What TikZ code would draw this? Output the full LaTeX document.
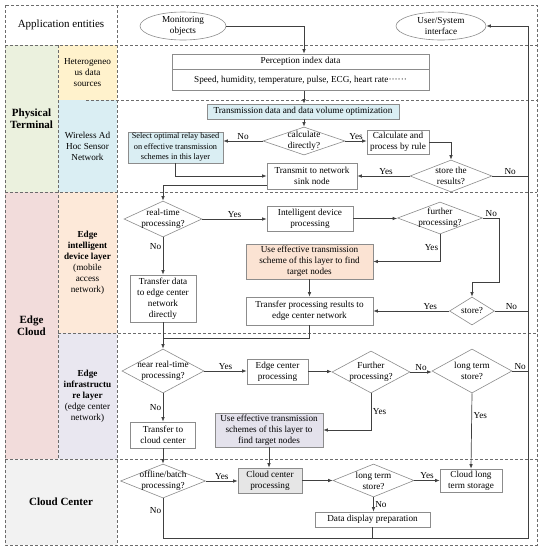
\documentclass[tikz,border=0pt]{standalone}
\usepackage{fontspec}
\setmainfont{Liberation Serif}
\usetikzlibrary{arrows.meta,positioning,shapes.geometric,calc}
\definecolor{physg}{HTML}{EBF1DE}
\definecolor{hetey}{HTML}{FFF2CC}
\definecolor{wsnb}{HTML}{DAEEF3}
\definecolor{edgep}{HTML}{F2DCDB}
\definecolor{edip}{HTML}{FDE9D9}
\definecolor{eill}{HTML}{E9E7F0}
\definecolor{cloudg}{HTML}{F2F2F2}
\definecolor{boxgray}{HTML}{8C8C8C}
\definecolor{linegray}{HTML}{404040}
\definecolor{usepeach}{HTML}{FBE3D3}
\definecolor{uselav}{HTML}{E4E2EC}
\definecolor{ccpgray}{HTML}{E6E6E6}
\tikzset{
  lanecell/.style={rectangle, fill=#1, inner sep=0pt, align=center, font=\fontsize{9.2}{11}\selectfont},
  lanehead/.style={rectangle, fill=#1, inner sep=0pt, align=center, font=\fontsize{11}{12.5}\selectfont\bfseries},
  proc/.style={rectangle, draw=boxgray, line width=0.6pt, fill=#1, align=center, inner sep=1pt,
               font=\fontsize{9.2}{11}\selectfont},
  proc/.default=white,
  decision/.style={diamond, draw=boxgray, line width=0.6pt, fill=white, aspect=2.5, inner sep=-6pt,
                   align=center, font=\fontsize{9.2}{11}\selectfont},
  entity/.style={ellipse, draw=boxgray, line width=0.6pt, inner sep=0pt, align=center,
                 minimum height=28pt, font=\fontsize{9.2}{11}\selectfont},
  zone/.style={dash pattern=on 3pt off 2pt, line width=0.7pt, draw=gray!85!black},
  arr/.style={-{Latex[length=4.5pt,width=3.5pt]}, line width=0.7pt, draw=linegray},
  link/.style={line width=0.7pt, draw=linegray},
  lbl/.style={font=\fontsize{9.2}{10}\selectfont, inner sep=1.5pt},
}
\begin{document}
\begin{tikzpicture}[x=1pt, y=-1pt]
  \useasboundingbox (0,0) rectangle (542,550);
  % swim lanes
  \node[lanecell=white, minimum width=112pt, minimum height=40pt, font=\fontsize{11}{12}\selectfont] (app) at (61,25) {Application entities};
  \node[lanehead=physg, minimum width=53pt, minimum height=147pt] (phys) at (31.5,118.5) {Physical\\Terminal};
  \node[lanecell=hetey, minimum width=59pt, minimum height=55pt] (hete) at (87.5,72.5) {Heterogeneo\\us data\\sources};
  \node[lanecell=wsnb, minimum width=59pt, minimum height=92pt] (wsn) at (87.5,146) {Wireless Ad\\Hoc Sensor\\Network};
  \node[lanehead=edgep, minimum width=53pt, minimum height=267pt] (edge) at (31.5,325.5) {Edge\\Cloud};
  \node[lanecell=edip, minimum width=59pt, minimum height=141pt] (edi) at (87.5,262.5) {\textbf{Edge}\\\textbf{intelligent}\\\textbf{device layer}\\(mobile\\access\\network)};
  \node[lanecell=eill, minimum width=59pt, minimum height=126pt] (eil) at (87.5,396) {\textbf{Edge}\\\textbf{infrastructu}\\\textbf{re layer}\\(edge center\\network)};
  \node[lanehead=cloudg, minimum width=112pt, minimum height=86pt] (cloud) at (61,502) {Cloud Center};
  \draw[zone] (5,5) rectangle (537,545);
  \draw[zone] (5,45) -- (537,45);
  \draw[zone] (86,100) -- (537,100);
  \draw[zone] (5,192) -- (537,192);
  \draw[zone] (58,333) -- (537,333);
  \draw[zone] (5,459) -- (537,459);
  \draw[zone] (117,5) -- (117,545);
  \draw[zone] (58,45) -- (58,459);

  % application entities
  \node[entity, minimum width=86pt] (mon) at (183,26) {Monitoring\\objects};
  \node[entity, minimum width=90pt] (usi) at (441,26) {User/System\\interface};
  \coordinate (fbbot) at (528,538);

  % physical terminal
  \node[proc, minimum width=257pt, minimum height=15pt] (perc) at (300.5,61.5) {Perception index data};
  \node[proc, minimum width=257pt, minimum height=21pt, below=0pt of perc] (percdata) {Speed, humidity, temperature, pulse, ECG, heart rate······};
  \node[proc=wsnb, minimum width=192pt, minimum height=15pt] (trans) at (303,111.5) {Transmission data and data volume optimization};
  \node[decision, minimum width=82pt, minimum height=28pt] (dia1) at (304,141) {calculate\\directly?};
  \node[proc=wsnb, minimum width=95pt, minimum height=31pt, font=\fontsize{8.3}{10.5}\selectfont] (relay) at (175.5,147.5) {Select optimal relay based\\on effective transmission\\schemes in this layer};
  \node[proc, minimum width=62pt, minimum height=24pt] (calc) at (398,142) {Calculate and\\process by rule};
  \node[decision, minimum width=82pt, minimum height=32pt] (dia2) at (451,176) {store the\\results?};
  \node[proc, minimum width=90pt, minimum height=26pt] (sink) at (312,176) {Transmit to network\\sink node};

  % edge intelligent device layer
  \node[decision, minimum width=78pt, minimum height=36pt] (dia3) at (163,219) {real-time\\processing?};
  \node[proc, minimum width=86pt, minimum height=25pt] (intel) at (310,218.5) {Intelligent device\\processing};
  \node[decision, minimum width=85pt, minimum height=32pt] (dia4) at (440,218) {further\\processing?};
  \node[proc=usepeach, minimum width=127pt, minimum height=35pt] (use1) at (309.5,261.5) {Use effective transmission\\scheme of this layer to find\\target nodes};
  \node[proc, minimum width=127pt, minimum height=28pt] (tpr) at (309.5,311) {Transfer processing results to\\edge center network};
  \node[proc, minimum width=66pt, minimum height=47pt] (tdata) at (163,298.5) {Transfer data\\to edge center\\network\\directly};
  \node[decision, minimum width=45pt, minimum height=28pt] (dia5) at (472,311) {store?};

  % edge infrastructure layer
  \node[decision, minimum width=82pt, minimum height=44pt] (dia6) at (163,371) {near real-time\\processing?};
  \node[proc, minimum width=61pt, minimum height=25pt] (ecp) at (277.5,371.5) {Edge center\\processing};
  \node[decision, minimum width=78pt, minimum height=42pt] (dia7) at (371,372) {Further\\processing?};
  \node[decision, minimum width=80pt, minimum height=44pt] (dia8) at (472,371) {long term\\store?};
  \node[proc=uselav, minimum width=108pt, minimum height=34pt] (use2) at (269,430) {Use effective transmission\\schemes of this layer to\\find target nodes};
  \node[proc, minimum width=65pt, minimum height=26pt] (tcc) at (163,435) {Transfer to\\cloud center};

  % cloud center
  \node[decision, minimum width=85pt, minimum height=34pt] (dia9) at (163,481) {offline/batch\\processing?};
  \node[proc=ccpgray, minimum width=64pt, minimum height=25pt] (ccp) at (270,480.5) {Cloud center\\processing};
  \node[decision, minimum width=81pt, minimum height=33pt] (dia10) at (373.5,480.5) {long term\\store?};
  \node[proc, minimum width=62pt, minimum height=23pt] (cls) at (471,480.5) {Cloud long\\term storage};
  \node[proc, minimum width=115pt, minimum height=15pt] (ddp) at (372.5,519.5) {Data display preparation};

  % flows
  \draw[arr] (mon.east) -| (perc.north -| dia1.north);
  \draw[arr] (percdata.south -| dia1.north) -- (trans.north -| dia1.north);
  \draw[arr] (trans.south -| dia1.north) -- (dia1.north);
  \draw[arr] (dia1.west) -- node[lbl, above]{No} (dia1.west -| relay.east);
  \draw[arr] (dia1.east) -- node[lbl, above]{Yes} (dia1.east -| calc.west);
  \draw[arr] (calc.east) -| (dia2.north);
  \draw[arr] (dia2.west) -- node[lbl, above, pos=0.45]{Yes} (dia2.west -| sink.east);
  \draw[link] (dia2.east) -- node[lbl, above]{No} (dia2.east -| fbbot);
  \draw[arr] (relay.south) |- (sink.west);
  \draw[arr] ([yshift=-9pt]sink.west) -| (dia3.north);

  \draw[arr] (dia3.east) -- node[lbl, above]{Yes} (dia3.east -| intel.west);
  \draw[arr] (intel.east) -- (intel.east -| dia4.west);
  \draw[arr] (dia4.south) |- node[lbl, left, pos=0.25]{Yes} (use1.east);
  \draw[arr] (dia4.east) -- node[lbl, above]{No} ++(17,0) |- ([yshift=14pt]dia5.north) -- (dia5.north);
  \draw[arr] (dia3.south) -- node[lbl, left, pos=0.25]{No} (tdata.north);
  \draw[arr] (use1.south) -- (tpr.north);
  \draw[arr] (dia5.west) -- node[lbl, above, pos=0.25]{Yes} (dia5.west -| tpr.east);
  \draw[link] (dia5.east) -- node[lbl, above]{No} (dia5.east -| fbbot);
  \draw[arr] (tdata.south) -- (dia6.north);
  \draw[link] (tpr.south) |- ([yshift=10pt]dia6.north);

  \draw[arr] (dia6.east) -- node[lbl, above]{Yes} (dia6.east -| ecp.west);
  \draw[arr] (ecp.east) -- (ecp.east -| dia7.west);
  \draw[arr] (dia7.east) -- node[lbl, above]{No} (dia7.east -| dia8.west);
  \draw[link] (dia8.east) -- node[lbl, above]{No} (dia8.east -| fbbot);
  \draw[arr] (dia7.south) |- node[lbl, right, pos=0.25]{Yes} (use2.east);
  \draw[arr] (dia6.south) -- node[lbl, left]{No} (tcc.north);
  \draw[arr] (dia8.south) -- node[lbl, right, pos=0.3]{Yes} (cls.north);
  \draw[arr] (use2.south) -- (use2.south |- ccp.north);
  \draw[arr] (tcc.south) -- (dia9.north);

  \draw[arr] (dia9.east) -- node[lbl, above]{Yes} (dia9.east -| ccp.west);
  \draw[arr] (ccp.east) -- (ccp.east -| dia10.west);
  \draw[arr] (dia10.east) -- node[lbl, above]{Yes} (dia10.east -| cls.west);
  \draw[arr] (dia10.south) -- node[lbl, right]{No} (dia10.south |- ddp.north);
  \draw[link] (ddp.south) -- (ddp.south |- fbbot);
  \draw[arr] (dia9.south) |- node[lbl, left, pos=0.15]{No} (fbbot) |- (usi.east);
\end{tikzpicture}
\end{document}
